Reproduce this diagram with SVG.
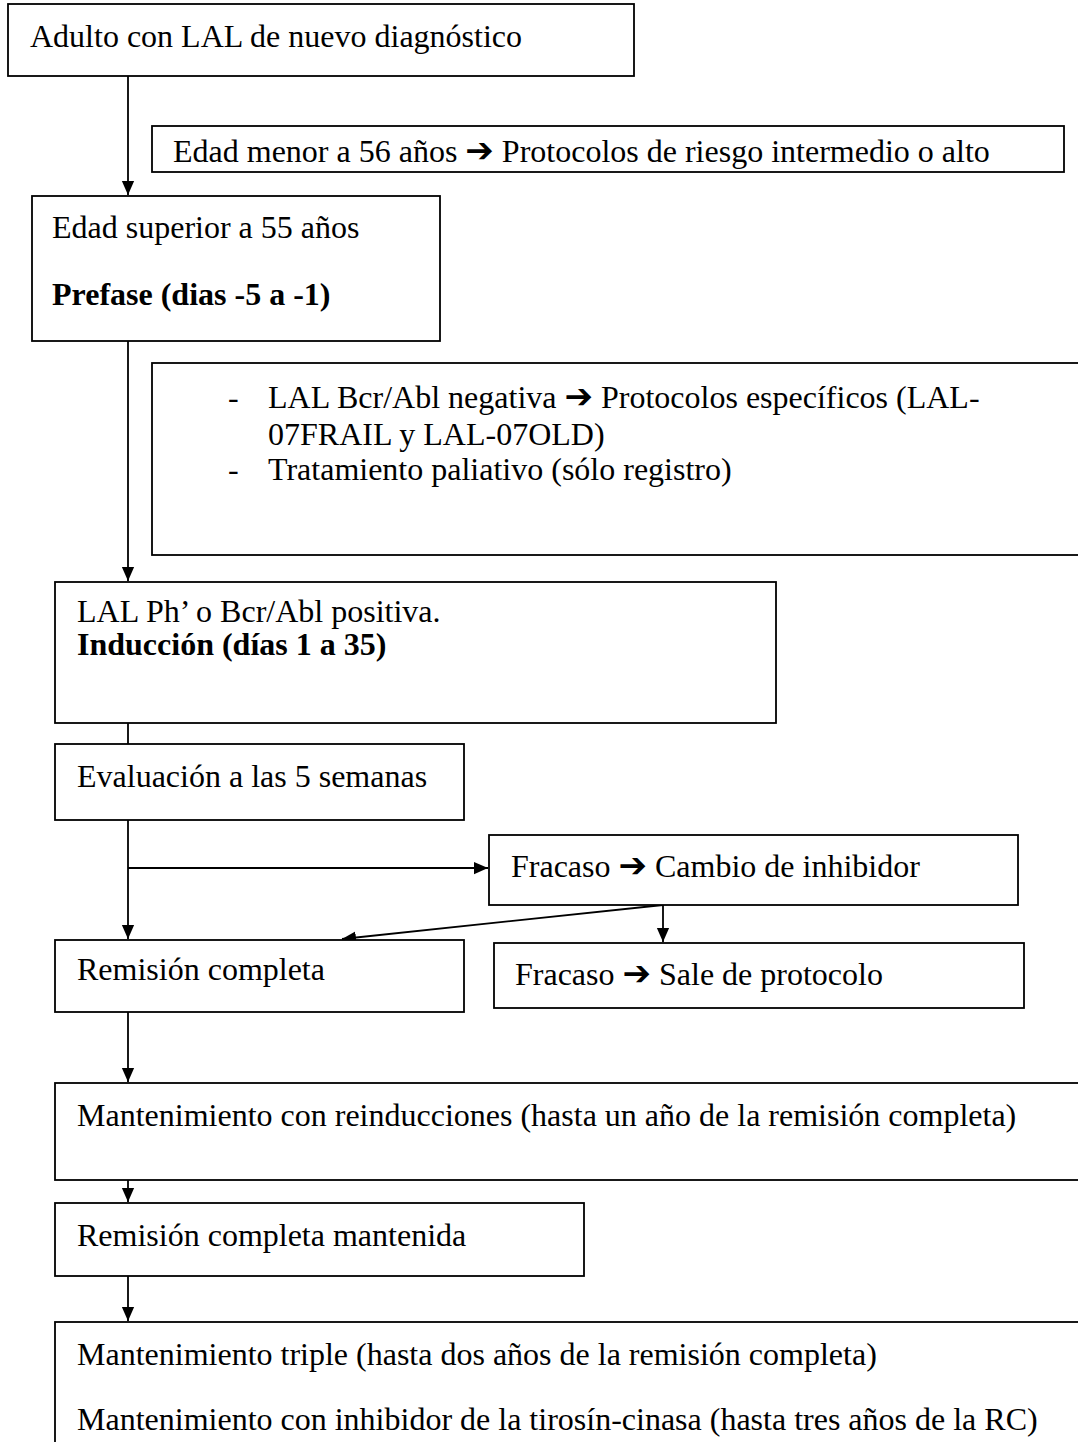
<svg xmlns="http://www.w3.org/2000/svg" width="1078" height="1442" viewBox="0 0 1078 1442">
<style>
.b{fill:#fff;stroke:#000;stroke-width:1.8}
.t{font-family:"Liberation Serif","Times New Roman",serif;font-size:32px;fill:#000}
.bd{font-weight:bold}
.ar{font-family:"DejaVu Sans",sans-serif;font-weight:bold;font-size:34px}
.c{stroke:#000;stroke-width:1.8;fill:none}
</style>
<defs>
<marker id="ah" markerWidth="14" markerHeight="16" refX="16" refY="7" orient="auto" markerUnits="userSpaceOnUse" viewBox="0 0 16 14">
<path d="M0,0 L16,7 L0,14 Z" fill="#000"/>
</marker>
</defs>
<g id="connectors">
<line class="c" x1="128" y1="76" x2="128" y2="195" marker-end="url(#ah)"/>
<line class="c" x1="128" y1="341" x2="128" y2="581" marker-end="url(#ah)"/>
<line class="c" x1="128" y1="723" x2="128" y2="744"/>
<line class="c" x1="128" y1="820" x2="128" y2="939" marker-end="url(#ah)"/>
<line class="c" x1="128" y1="868" x2="488" y2="868" marker-end="url(#ah)"/>
<line class="c" x1="663" y1="905" x2="663" y2="942" marker-end="url(#ah)"/>
<line class="c" x1="663" y1="905" x2="342" y2="939" marker-end="url(#ah)"/>
<line class="c" x1="128" y1="1012" x2="128" y2="1082" marker-end="url(#ah)"/>
<line class="c" x1="128" y1="1180" x2="128" y2="1202" marker-end="url(#ah)"/>
<line class="c" x1="128" y1="1276" x2="128" y2="1321" marker-end="url(#ah)"/>
</g>
<g id="n1"><rect class="b" x="8" y="4" width="626" height="72"/><text class="t" x="30" y="47">Adulto con LAL de nuevo diagnóstico</text></g>
<g id="n2"><rect class="b" x="152" y="126" width="912" height="46"/><text class="t" x="173" y="162">Edad menor a 56 años <tspan class="ar">➔</tspan> Protocolos de riesgo intermedio o alto</text></g>
<g id="n3"><rect class="b" x="32" y="196" width="408" height="145"/><text class="t" x="52" y="238">Edad superior a 55 años</text><text class="t bd" x="52" y="305">Prefase (dias -5 a -1)</text></g>
<g id="n4"><rect class="b" x="152" y="363" width="940" height="192"/><text class="t" x="228" y="408">-</text><text class="t" x="268" y="408">LAL Bcr/Abl negativa <tspan class="ar">➔</tspan> Protocolos específicos (LAL-</text><text class="t" x="268" y="445">07FRAIL y LAL-07OLD)</text><text class="t" x="228" y="480">-</text><text class="t" x="268" y="480">Tratamiento paliativo (sólo registro)</text></g>
<g id="n5"><rect class="b" x="55" y="582" width="721" height="141"/><text class="t" x="77" y="622">LAL Ph’ o Bcr/Abl positiva.</text><text class="t bd" x="77" y="655">Inducción (días 1 a 35)</text></g>
<g id="n6"><rect class="b" x="55" y="744" width="409" height="76"/><text class="t" x="77" y="787">Evaluación a las 5 semanas</text></g>
<g id="n7"><rect class="b" x="489" y="835" width="529" height="70"/><text class="t" x="511" y="877">Fracaso <tspan class="ar">➔</tspan> Cambio de inhibidor</text></g>
<g id="n8"><rect class="b" x="55" y="940" width="409" height="72"/><text class="t" x="77" y="980">Remisión completa</text></g>
<g id="n9"><rect class="b" x="494" y="943" width="530" height="65"/><text class="t" x="515" y="985">Fracaso <tspan class="ar">➔</tspan> Sale de protocolo</text></g>
<g id="n10"><rect class="b" x="55" y="1083" width="1040" height="97"/><text class="t" x="77" y="1126">Mantenimiento con reinducciones (hasta un año de la remisión completa)</text></g>
<g id="n11"><rect class="b" x="55" y="1203" width="529" height="73"/><text class="t" x="77" y="1246">Remisión completa mantenida</text></g>
<g id="n12"><rect class="b" x="55" y="1322" width="1040" height="140"/><text class="t" x="77" y="1365">Mantenimiento triple (hasta dos años de la remisión completa)</text><text class="t" x="77" y="1430">Mantenimiento con inhibidor de la tirosín-cinasa (hasta tres años de la RC)</text></g>
</svg>
